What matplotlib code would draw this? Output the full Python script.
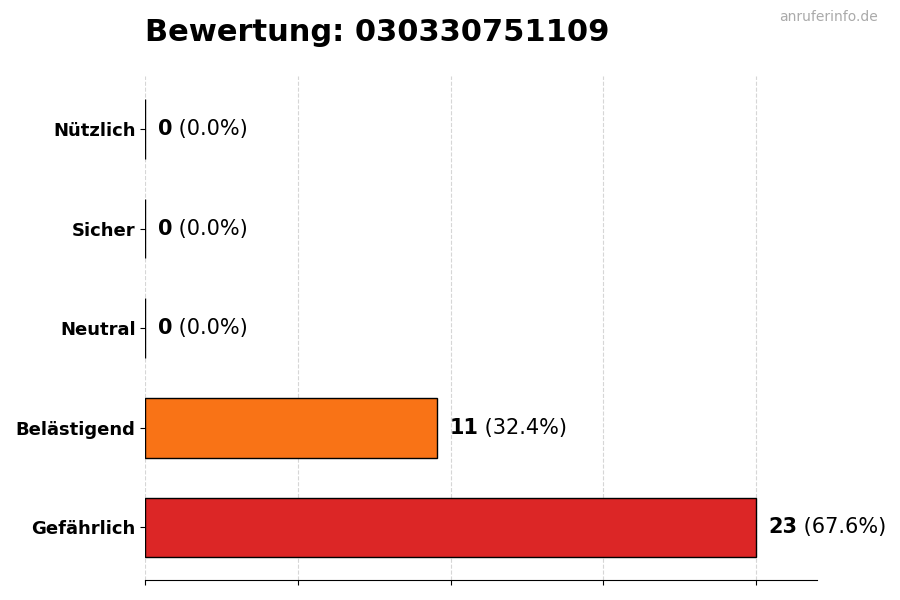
import matplotlib
matplotlib.use("Agg")
import matplotlib.pyplot as plt
import numpy as np

categories = ["Gefährlich", "Belästigend", "Neutral", "Sicher", "Nützlich"]
values = [23, 11, 0, 0, 0]
colors = ["#dc2626", "#f97316", "#9ca3af", "#3b82f6", "#22c55e"]
title = "Bewertung: 030330751109"
watermark = "anruferinfo.de"

total = sum(values)
vmax = max(values)

fig = plt.figure(figsize=(9, 6), dpi=100)
ax = fig.add_axes([0.1615, 0.033, 0.746, 0.840])

y = np.arange(len(categories))
ax.barh(y, values, height=0.6, color=colors, edgecolor="black", linewidth=1, zorder=3)
ax.set_yticks(y)
ax.set_yticklabels(categories, fontsize=13, fontweight="bold")
ax.set_xlim(0, vmax * 1.1)
ax.set_xticks(np.linspace(0, vmax, 5))
ax.set_xticklabels([])
ax.grid(axis="x", linestyle="--", color="#cccccc", alpha=0.8, zorder=0)
for s in ["top", "right", "left"]:
    ax.spines[s].set_visible(False)

for yi, v in zip(y, values):
    pct = v / total * 100 if total else 0
    t1 = ax.text(v + vmax * 0.02, yi, f"{v}", fontsize=15, fontweight="bold",
                 va="center", ha="left", zorder=4)
    ax.annotate(f" ({pct:.1f}%)", xy=(1, 0), xycoords=t1, fontsize=15,
                va="bottom", ha="left")

ax.set_title(title, loc="left", fontsize=22, fontweight="bold", pad=25)
fig.text(0.975, 0.983, watermark, fontsize=10, color="#aaaaaa", ha="right", va="top")

fig.savefig("out.png", dpi=100)
